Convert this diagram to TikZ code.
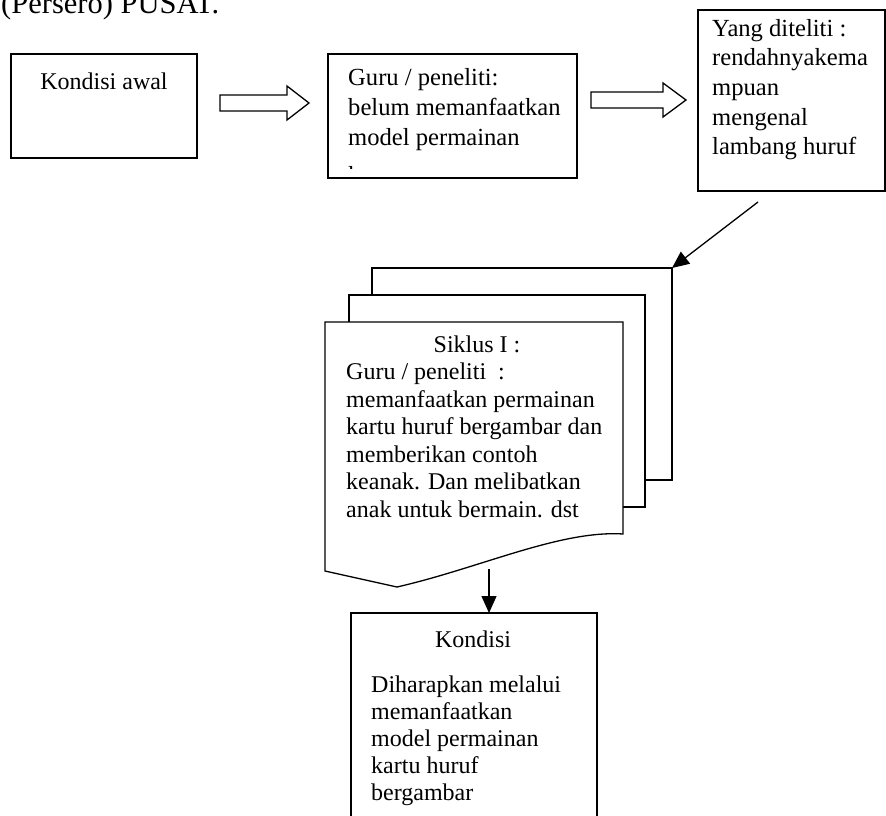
\documentclass[tikz,border=0pt]{standalone}
\usepackage{fontspec}
\setmainfont{Liberation Serif}
\usetikzlibrary{arrows.meta}
\begin{document}
\begin{tikzpicture}[x=1pt,y=-1pt,
  box/.style={draw, line width=1.3pt, inner sep=0pt, outer sep=0pt, fill=white},
  txt/.style={anchor=base west, inner sep=0pt, font=\fontsize{24}{28}\selectfont},
  txtb/.style={anchor=base west, inner sep=0pt, font=\fontsize{24.6}{28}\selectfont},
  txtc/.style={anchor=base, inner sep=0pt, font=\fontsize{24}{28}\selectfont},
  hollow/.style={draw, line width=1.3pt, line join=miter, fill=white},
  conn/.style={line width=1.3pt, -{Triangle[length=17pt,width=15pt]}}]
\clip (0,0) rectangle (886,816);
\fill[white] (0,0) rectangle (886,816);
% heading fragment
\node[anchor=base west, inner sep=0pt, font=\fontsize{30.5}{36}\selectfont] (title) at (1,14) {(Persero) PUSAT.};
% box 1
\node[box, minimum width=186pt, minimum height=104pt] (b1) at (104,106) {};
\node[txtc] (t1) at (104,89) {Kondisi awal};
% hollow arrow 1
\draw[hollow] (220,95) -- (287,95) -- (287,86) -- (309,103) -- (287,120) -- (287,111) -- (220,111) -- cycle;
% box 2
\node[box, minimum width=249pt, minimum height=124pt] (b2) at (452.5,116) {};
\node[txtb] (t2a) at (348,85) {Guru / peneliti:};
\node[txtb] (t2b) at (348,115) {belum memanfaatkan};
\node[txtb] (t2c) at (348,145) {model permainan};
\begin{scope}
\clip (330,150) rectangle (575,168);
\node[txtb] (t2d) at (348,183) {kartu};
\end{scope}
% hollow arrow 2
\draw[hollow] (591,92) -- (663,92) -- (663,83) -- (686,100) -- (663,117) -- (663,108) -- (591,108) -- cycle;
% box 3
\node[box, minimum width=187pt, minimum height=181pt] (b3) at (791.5,100.5) {};
\node[txtb] (t3a) at (712,36.5) {Yang diteliti :};
\node[txtb] (t3b) at (712,66) {rendahnyakema};
\node[txtb] (t3c) at (712,95.5) {mpuan};
\node[txtb] (t3d) at (712,125) {mengenal};
\node[txtb] (t3e) at (712,154.5) {lambang huruf};
% stacked pages
\node[box, minimum width=300pt, minimum height=212pt] (p3) at (522,374) {};
\node[box, minimum width=296pt, minimum height=212pt] (p2) at (497,401) {};
\draw[line width=1.3pt, fill=white] (325,322) -- (623,322) -- (623,534)
  .. controls (560,530) and (480,568) .. (397,587) -- (325,571) -- cycle;
\node[txtc] (s0) at (477,352) {Siklus I :};
\node[txt] (s1t) at (346,379.5) {Guru / peneliti\ \ :};
\node[txt] (s2t) at (346,407) {memanfaatkan permainan};
\node[txt] (s3t) at (346,434.5) {kartu huruf bergambar dan};
\node[txt] (s4t) at (346,462) {memberikan contoh};
\node[txt] (s5t) at (346,489.5) {keanak. Dan melibatkan};
\node[txt] (s6t) at (346,517) {anak untuk bermain. dst};
% bottom box
\node[box, minimum width=246pt, minimum height=217pt] (b4) at (474,721.5) {};
\node[txtc] (k0) at (473,647) {Kondisi};
\node[txt] (k1) at (371,692) {Diharapkan melalui};
\node[txt] (k2) at (371,719) {memanfaatkan};
\node[txt] (k3) at (371,746) {model permainan};
\node[txt] (k4) at (371,773) {kartu huruf};
\node[txt] (k5) at (371,800) {bergambar};
% connectors
\coordinate (s1) at (758,202);
\draw[conn] (s1) -- (p3.north east);
\coordinate (fb) at (489,569);
\draw[conn] (fb) -- (fb |- b4.north);
\end{tikzpicture}
\end{document}
